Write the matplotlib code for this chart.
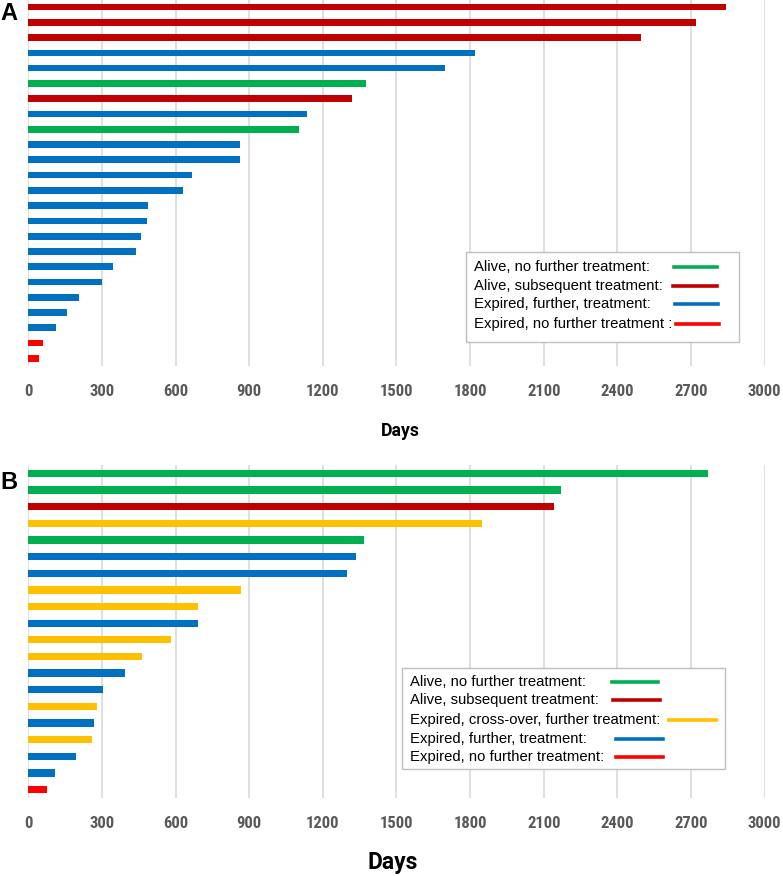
import matplotlib
matplotlib.use('Agg')
import matplotlib.pyplot as plt
from matplotlib.lines import Line2D
from matplotlib.patches import Rectangle

# colours per status
GREEN = '#00B050'
DARKRED = '#C00000'
BLUE = '#0070C0'
RED = '#FF0000'
YELLOW = '#FFC000'

# Panel A: days per patient, top to bottom
days_a = [2843, 2719, 2497, 1822, 1699, 1374, 1320, 1135, 1102, 864, 863, 669, 629,
          487, 484, 461, 439, 347, 299, 207, 156, 111, 61, 45]
status_a = ['asub', 'asub', 'asub', 'efur', 'efur', 'anof', 'asub', 'efur', 'anof',
            'efur', 'efur', 'efur', 'efur', 'efur', 'efur', 'efur', 'efur', 'efur',
            'efur', 'efur', 'efur', 'efur', 'enof', 'enof']

# Panel B
days_b = [2770, 2170, 2142, 1848, 1368, 1334, 1299, 867, 693, 690, 580, 462, 394,
          303, 279, 266, 261, 193, 107, 75]
status_b = ['anof', 'anof', 'asub', 'ecro', 'anof', 'efur', 'efur', 'ecro', 'ecro',
            'efur', 'ecro', 'ecro', 'efur', 'efur', 'ecro', 'efur', 'ecro', 'efur',
            'efur', 'enof']

colors = {'anof': GREEN, 'asub': DARKRED, 'ecro': YELLOW, 'efur': BLUE, 'enof': RED}

legend_a = ['Alive, no further treatment:', 'Alive, subsequent treatment:',
            'Expired, further, treatment:', 'Expired, no further treatment :']
legend_a_keys = ['anof', 'asub', 'efur', 'enof']
legend_b = ['Alive, no further treatment:', 'Alive, subsequent treatment:',
            'Expired, cross-over, further treatment:', 'Expired, further, treatment:',
            'Expired, no further treatment:']
legend_b_keys = ['anof', 'asub', 'ecro', 'efur', 'enof']

xticks = list(range(0, 3001, 300))

W, H = 783, 876
fig = plt.figure(figsize=(W / 100, H / 100), dpi=100)

TICKFONT = ['Roboto Condensed', 'Liberation Sans Narrow', 'Roboto', 'DejaVu Sans']
LABELFONT = ['Roboto', 'DejaVu Sans']
TEXTFONT = ['Liberation Sans', 'DejaVu Sans']


def fx(x):
    return x / W


def fy(y):
    return 1 - y / H


def panel(top, bottom, days, status):
    ax = fig.add_axes([fx(28.3), fy(bottom), (764.6 - 28.3) / W, (bottom - top) / H])
    n = len(days)
    ax.barh(range(n), days, height=0.44, color=[colors[s] for s in status], zorder=3)
    ax.set_xlim(0, 3000)
    ax.set_ylim(n - 0.5, -0.5)
    ax.set_yticks([])
    ax.set_xticks(xticks)
    ax.set_xticklabels([str(t) for t in xticks], fontfamily=TICKFONT,
                       fontweight='bold', fontsize=12, color='#595959')
    ax.tick_params(axis='x', length=0, pad=13)
    ax.grid(axis='x', color='#D9D9D9', lw=1.2, zorder=0)
    for s in ax.spines.values():
        s.set_visible(False)
    return ax


ax_a = panel(-0.6, 366, days_a, status_a)
ax_b = panel(465, 798, days_b, status_b)

# axis titles
fig.text(fx(400), fy(431), 'Days', fontfamily=LABELFONT, fontweight='bold',
         fontsize=12.7, ha='center', va='center')
fig.text(fx(393), fy(862), 'Days', fontfamily=LABELFONT, fontweight='bold',
         fontsize=16.5, ha='center', va='center')

fig.text(fx(9), fy(14), 'A', fontfamily=TEXTFONT, fontweight='bold', fontsize=17,
         ha='center', va='center')
fig.text(fx(9), fy(482), 'B', fontfamily=TEXTFONT, fontweight='bold', fontsize=17,
         ha='center', va='center')


def legend(box, text_x, rows, segs, labels, keys):
    x0, y0, x1, y1 = box
    fig.patches.append(Rectangle((fx(x0), fy(y1)), (x1 - x0) / W, (y1 - y0) / H,
                                 transform=fig.transFigure, facecolor='white',
                                 edgecolor='#BFBFBF', lw=1, zorder=5))
    for y, (sx0, sx1), lab, k in zip(rows, segs, labels, keys):
        fig.text(fx(text_x), fy(y), lab, fontfamily=TEXTFONT, fontsize=10.7,
                 ha='left', va='center', zorder=6)
        fig.lines.append(Line2D([fx(sx0), fx(sx1)], [fy(y), fy(y)],
                                transform=fig.transFigure, color=colors[k],
                                lw=2.6, zorder=6))


legend((465.7, 252.3, 738.7, 342.3), 474, [266.7, 286.3, 304, 324.3],
       [(674, 717), (673, 717), (675, 718), (676, 719)], legend_a, legend_a_keys)
legend((401.7, 668.3, 725, 769), 410, [682, 699.7, 720, 739.3, 757],
       [(612, 658), (613, 660), (669, 716), (616, 663), (616, 663)],
       legend_b, legend_b_keys)

fig.savefig('out.png', dpi=100)
